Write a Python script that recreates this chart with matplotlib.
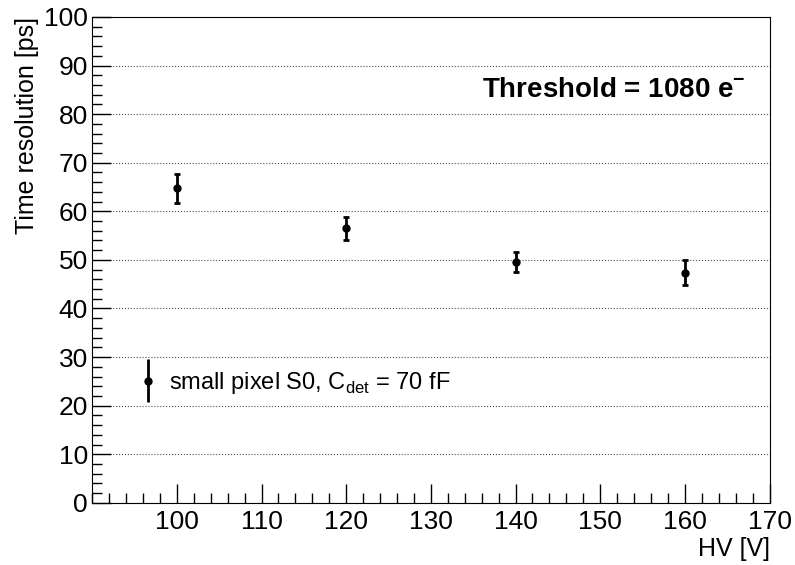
import matplotlib
matplotlib.use('Agg')
import matplotlib.pyplot as plt
from matplotlib.ticker import MultipleLocator
from matplotlib.legend_handler import HandlerErrorbar

plt.rcParams['font.family'] = ['Liberation Sans', 'DejaVu Sans']
plt.rcParams['mathtext.fontset'] = 'custom'
plt.rcParams['mathtext.rm'] = 'Liberation Sans'
plt.rcParams['mathtext.bf'] = 'Liberation Sans:bold'

#data
hv = [100, 120, 140, 160]
time_res = [64.7, 56.5, 49.6, 47.4]
time_err = [2.95, 2.35, 2.0, 2.55]
legend_label = r'small pixel S0, C$_{\mathrm{det}}$ = 70 fF'

fig = plt.figure(figsize=(7.95, 5.65), dpi=100)
ax = fig.add_axes([0.116, 0.110, 0.852, 0.860])

ax.errorbar(hv, time_res, yerr=time_err, fmt='o', color='black',
            markersize=5, elinewidth=2, capsize=2.5, capthick=2, zorder=3)

ax.set_xlim(90, 170)
ax.set_ylim(0, 100)

ax.xaxis.set_major_locator(MultipleLocator(10))
ax.xaxis.set_minor_locator(MultipleLocator(2))
ax.yaxis.set_major_locator(MultipleLocator(10))
ax.yaxis.set_minor_locator(MultipleLocator(2))
ax.set_xticks([100, 110, 120, 130, 140, 150, 160, 170])

ax.tick_params(which='both', direction='in', top=False, right=False, labelsize=19, width=1)
ax.tick_params(axis='x', which='major', length=14, pad=5)
ax.tick_params(axis='y', which='major', length=14, pad=3)
ax.tick_params(which='minor', length=7)

ax.grid(axis='y', which='major', linestyle=':', color='black', linewidth=0.8, alpha=0.7)

ax.set_xlabel('HV [V]', fontsize=18, ha='right', va='top')
ax.xaxis.set_label_coords(1.0, -0.07)
ax.set_ylabel('Time resolution [ps]', fontsize=18, loc='top', labelpad=4)

ax.text(0.965, 0.835, r'Threshold = 1080 e$^{\mathbf{-}}$', transform=ax.transAxes,
        fontsize=20, fontweight='bold', ha='right', va='baseline')

#legend with a vertical error bar as handle
eb = ax.errorbar([], [], yerr=[], fmt='o', color='black', markersize=5, elinewidth=2)
ax.legend([eb], [legend_label],
          loc='center left', bbox_to_anchor=(0.04, 0.247), frameon=False,
          fontsize=17, handlelength=0.6, handletextpad=0.6,
          handler_map={type(eb): HandlerErrorbar(xerr_size=0, yerr_size=0.9)})

fig.savefig('out.png', dpi=100)
